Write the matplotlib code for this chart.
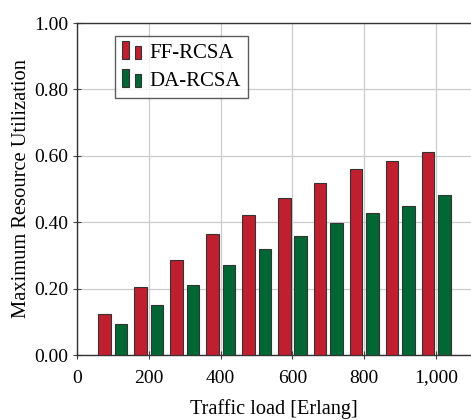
import matplotlib
matplotlib.use("Agg")
import matplotlib.pyplot as plt
from matplotlib.patches import Rectangle
from matplotlib.legend_handler import HandlerBase
from matplotlib.ticker import FuncFormatter

loads = [100, 200, 300, 400, 500, 600, 700, 800, 900, 1000]
ff_rcsa = [0.122, 0.205, 0.286, 0.364, 0.422, 0.473, 0.517, 0.561, 0.584, 0.612]
da_rcsa = [0.092, 0.150, 0.211, 0.271, 0.318, 0.358, 0.397, 0.427, 0.450, 0.481]
series_names = ["FF-RCSA", "DA-RCSA"]
x_ticks = [0, 200, 400, 600, 800, 1000]
y_ticks = [0.0, 0.2, 0.4, 0.6, 0.8, 1.0]

RED = "#C01F2F"
GREEN = "#006633"

plt.rcParams['font.family'] = ['Liberation Serif', 'DejaVu Serif']
plt.rcParams['font.size'] = 14

fig = plt.figure(figsize=(4.71, 4.20), dpi=100)
ax = fig.add_axes([77/471, 1-355/420, 1-77/471, (355-23)/420])

shift = 23
width = 35
ax.bar([x - shift for x in loads], ff_rcsa, width=width, color=RED,
       edgecolor="#333333", linewidth=0.8, label=series_names[0], zorder=3)
ax.bar([x + shift for x in loads], da_rcsa, width=width, color=GREEN,
       edgecolor="#333333", linewidth=0.8, label=series_names[1], zorder=3)

ax.set_xlim(0, 1097)
ax.set_ylim(0, 1.0)
ax.set_xticks(x_ticks)
ax.set_yticks(y_ticks)
ax.xaxis.set_major_formatter(FuncFormatter(lambda v, p: f"{int(v):,}"))
ax.yaxis.set_major_formatter(FuncFormatter(lambda v, p: f"{v:.2f}"))
ax.grid(True, color="#cccccc", linewidth=0.9, zorder=0)
ax.set_axisbelow(True)
ax.tick_params(direction="inout", length=6, width=0.8, color="#444444", labelsize=14)
ax.tick_params(axis="x", pad=7.5)
for s in ["left", "bottom", "top"]:
    ax.spines[s].set_color("#333333")
    ax.spines[s].set_linewidth(1.0)
ax.spines["right"].set_visible(False)

ax.set_xlabel("Traffic load [Erlang]", fontsize=14.6, labelpad=9)
ax.set_ylabel("Maximum Resource Utilization", fontsize=14.8, labelpad=2)


class TwoBarHandler(HandlerBase):
    def create_artists(self, legend, orig_handle, xdescent, ydescent, width, height, fontsize, trans):
        fc = orig_handle.get_facecolor()
        bw = width * 0.32
        arts = []
        bottom = -ydescent - height * 0.05
        for i, h in enumerate([height * 1.2, height * 0.85]):
            r = Rectangle((-xdescent + i * width * 0.62, bottom), bw, h,
                          facecolor=fc, edgecolor="#333333", linewidth=0.8, transform=trans)
            arts.append(r)
        return arts


handles, labels = ax.get_legend_handles_labels()
leg = ax.legend([h.patches[0] for h in handles], labels,
                handler_map={Rectangle: TwoBarHandler()},
                loc="upper left", bbox_to_anchor=((115-77)/394, 1-(36-23)/332),
                fontsize=15, frameon=True, fancybox=False, edgecolor="#333333",
                handlelength=0.95, handletextpad=0.35, borderpad=0.35, labelspacing=0.4,
                borderaxespad=0)
leg.get_frame().set_linewidth(1.0)

fig.savefig("out.png", dpi=100)
